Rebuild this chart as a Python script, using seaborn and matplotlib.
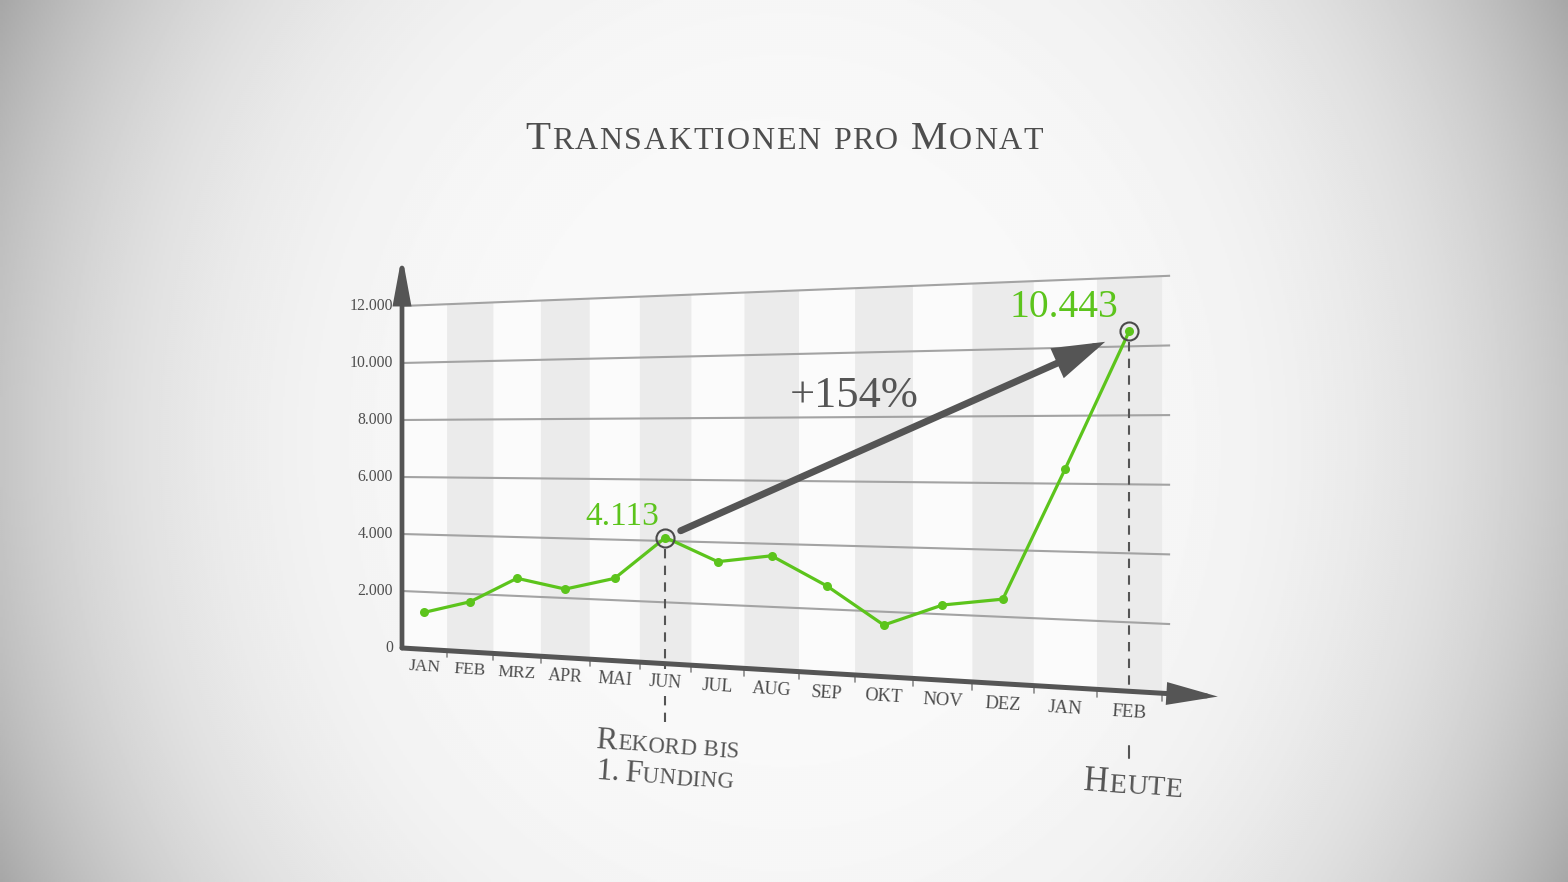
import numpy as np
import pandas as pd
import matplotlib
matplotlib.use("Agg")
import matplotlib.pyplot as plt
import matplotlib.transforms as mtransforms
from matplotlib.patches import Rectangle
import seaborn as sns

# ---------------- data ----------------
months = ["JAN", "FEB", "MRZ", "APR", "MAI", "JUN", "JUL",
          "AUG", "SEP", "OKT", "NOV", "DEZ", "JAN", "FEB"]
values = [1290, 1730, 2600, 2300, 2720, 4113, 3380,
          3620, 2730, 1590, 2280, 2530, 6430, 10443]
ytick_values = [0, 2000, 4000, 6000, 8000, 10000, 12000]
ytick_labels = ["0", "2.000", "4.000", "6.000", "8.000", "10.000", "12.000"]
title_parts = [("T", "big"), ("RANSAKTIONEN", "small"), (None, 11),
               ("PRO", "small"), (None, 11), ("M", "big"), ("ONAT", "small")]
record_idx = 5
today_idx = 13
record_label = "4.113"
today_label = "10.443"
growth_label = "+154%"

# ---------------- style ----------------
SERIF = "Liberation Serif"
GREEN = "#5cc41c"
DARK = "#555555"
GRID = "#a3a3a3"
SHADE = "#ebebeb"
PLOTBG = "#fbfbfb"
W, Hh = 1568, 882

sns.set_style("white")
plt.rcParams["font.family"] = [SERIF, "DejaVu Serif"]

fig = plt.figure(figsize=(W / 100, Hh / 100), dpi=100)
ax = fig.add_axes([0, 0, 1, 1])
ax.set_xlim(0, W)
ax.set_ylim(Hh, 0)
ax.axis("off")


# perspective (homography) from chart space (month slot, value) to picture pixels
class Persp(mtransforms.Transform):
    input_dims = 2
    output_dims = 2
    is_separable = False
    has_inverse = True

    def __init__(self, M):
        super().__init__()
        self.M = np.asarray(M, float)

    def transform_non_affine(self, values):
        v = np.asarray(values, float).reshape(-1, 2)
        p = np.hstack([v, np.ones((len(v), 1))]) @ self.M.T
        return p[:, :2] / p[:, 2:3]

    def inverted(self):
        return Persp(np.linalg.inv(self.M))


P = Persp([[39.34, 0.0, 402.0],
           [-5.69, -0.0285, 648.0],
           [-0.01287, 0.0, 1.0]])
T = P + ax.transData


def pt(u, v):
    return P.transform(np.array([[u, v]], float))[0]


# ---------------- background vignette ----------------
yy, xx = np.mgrid[0:Hh:2, 0:W:2]
dx = (xx - W / 2) / (W / 2)
dy = (yy - Hh / 2) / (Hh / 2)
r = (0.8 * dx ** 2 + 0.2 * dy ** 2)
img = 249 - 82 * np.clip(r, 0, None) ** 2.0
ax.imshow(img, cmap="gray", vmin=0, vmax=255, extent=(0, W, Hh, 0),
          aspect="auto", interpolation="bilinear", zorder=0)

n = len(months)
pos = np.arange(n) + 0.5
vmax = ytick_values[-1]

# plot area and alternating columns
ax.add_patch(Rectangle((0, 0), n, vmax, transform=T, facecolor=PLOTBG,
                       edgecolor="none", zorder=1))
for i in range(1, n, 2):
    ax.add_patch(Rectangle((i, 0), 1, vmax, transform=T, facecolor=SHADE,
                           edgecolor="none", zorder=1.5))

# gridlines
for v in ytick_values[1:]:
    ax.plot([0, n + 0.12], [v, v], transform=T, color=GRID, lw=1.5, zorder=2,
            solid_capstyle="butt")

# y tick labels
for v, lab in zip(ytick_values, ytick_labels):
    px, py = pt(0, v)
    ax.text(px - 9, py, lab, ha="right", va="center", fontsize=11.3,
            color="#4f4f4f", zorder=6)

# axes with arrow heads
ax.annotate("", xy=(0, 13790), xytext=(0, 0), xycoords=T, textcoords=T,
            arrowprops=dict(arrowstyle="-|>,head_length=1.3,head_width=0.24",
                            mutation_scale=20, lw=3.4, color=DARK,
                            shrinkA=0, shrinkB=0, joinstyle="miter"),
            zorder=3)
ax.annotate("", xy=(n + 0.83, 0), xytext=(0, 0), xycoords=T, textcoords=T,
            arrowprops=dict(arrowstyle="-|>,head_length=1.35,head_width=0.3",
                            mutation_scale=20, lw=3.6, color=DARK,
                            shrinkA=0, shrinkB=0, joinstyle="miter"),
            zorder=3)
# x ticks
for i in range(1, n + 1):
    ax.plot([i, i], [0, -230], transform=T, color="#8a8a8a", lw=1.2, zorder=2.8)

# month labels
for i, m in enumerate(months):
    u = pos[i]
    w = 1 - 0.01287 * u
    px, py = pt(u, -620)
    ax.text(px, py, m, ha="center", va="center", rotation=-3.5,
            rotation_mode="anchor", fontsize=12.4 * w ** -0.5, color="#4d4d4d",
            zorder=6)

# dashed guide lines
rx, ry = pt(pos[record_idx], values[record_idx])
tx, ty = pt(pos[today_idx], values[today_idx])
dash_kw = dict(color=DARK, lw=1.5, dashes=(4.5, 3.5), zorder=2.5)
ax.plot([rx, rx], [ry + 11, 669], **dash_kw)
ax.plot([rx, rx], [696, 722], **dash_kw)
ax.plot([tx, tx], [ty + 11, 686], **dash_kw)
ax.plot([tx, tx], [746, 758], color=DARK, lw=1.5, zorder=2.5)

# main series (seaborn)
df = pd.DataFrame({"slot": pos, "value": values})
sns.lineplot(data=df, x="slot", y="value", ax=ax, color=GREEN, linewidth=2.3,
             marker="o", markersize=6.5, markeredgewidth=0, transform=T,
             zorder=4, sort=False)

# rings around highlighted points
ax.plot([pos[record_idx], pos[today_idx]],
        [values[record_idx], values[today_idx]], transform=T, linestyle="none",
        marker="o", markersize=13, markerfacecolor="none",
        markeredgecolor="#4a4a4a", markeredgewidth=1.5, zorder=5)

# growth arrow
ax.annotate("", xy=(pos[today_idx], values[today_idx]),
            xytext=(pos[record_idx], values[record_idx]),
            xycoords=T, textcoords=T,
            arrowprops=dict(arrowstyle="-|>,head_length=1.35,head_width=0.42",
                            mutation_scale=20, lw=5, color=DARK,
                            shrinkA=12, shrinkB=19, joinstyle="miter"),
            zorder=4.5)

# value labels
ax.annotate(record_label, xy=(pos[record_idx], values[record_idx]), xycoords=T,
            xytext=(-43, 13), textcoords="offset pixels", ha="center",
            va="baseline", fontsize=24, color=GREEN, zorder=6)
ax.annotate(today_label, xy=(pos[today_idx], values[today_idx]), xycoords=T,
            xytext=(-65, 14), textcoords="offset pixels", ha="center",
            va="baseline", fontsize=28.5, color=GREEN, zorder=6)
ax.text(854, 407, growth_label, ha="center", va="baseline", fontsize=32,
        color=DARK, zorder=6)

# small-caps text helper
renderer = fig.canvas.get_renderer()


def smallcaps(x, y, parts, big, small, rot=0.0, ha="left", color=DARK,
              tracking=0.0, weight="normal"):
    sizes = {"big": big, "small": small}
    items = []  # (char or None, size, advance)
    for s, kind in parts:
        if s is None:
            items.append((None, 0, kind))
            continue
        for ch in s:
            t = ax.text(0, 0, ch, fontsize=sizes[kind], fontweight=weight)
            wd = t.get_window_extent(renderer).width
            t.remove()
            items.append((ch, sizes[kind], wd + tracking))
    total = sum(a for _, _, a in items) - tracking
    off = -total / 2 if ha == "center" else 0.0
    th = np.deg2rad(rot)
    for ch, size, adv in items:
        if ch is not None:
            ax.text(x + off * np.cos(th), y - off * np.sin(th), ch,
                    fontsize=size, rotation=rot, rotation_mode="anchor",
                    ha="left", va="baseline", color=color, zorder=6,
                    fontweight=weight)
        off += adv


# title
smallcaps(784, 149, title_parts, 29.5, 23, ha="center", color="#4e4e4e",
          tracking=1.6)

# bottom annotations
smallcaps(rx - 70, 748, [("R", "big"), ("EKORD", "small"), (None, 7),
                         ("BIS", "small")], 23, 16.5, rot=-4, tracking=0.0)
smallcaps(rx - 70, 779, [("1.", "big"), (None, 5), ("F", "big"),
                         ("UNDING", "small")], 23, 16.5, rot=-4, tracking=0.0)
smallcaps(tx - 46, 790, [("H", "big"), ("EUTE", "small")], 25, 20.5, rot=-4,
          tracking=0.2)

ax.set_xlim(0, W)
ax.set_ylim(Hh, 0)
ax.axis("off")
fig.savefig("out.png", dpi=100)
